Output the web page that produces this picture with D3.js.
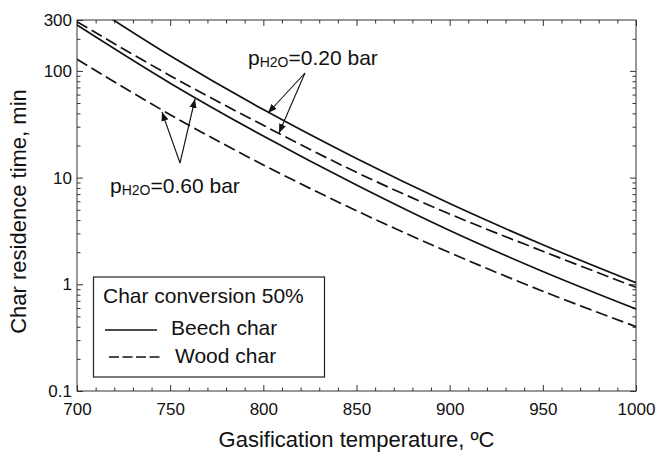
<!DOCTYPE html>
<html>
<head>
<meta charset="utf-8">
<script src="https://cdn.jsdelivr.net/npm/d3@7"></script>
<style>
  html, body { margin: 0; padding: 0; background: #fff; }
  svg { display: block; font-family: "Liberation Sans", Arial, sans-serif; }
</style>
</head>
<body>
<svg id="chart" width="657" height="452"></svg>
<script>
// Gasification temperature (ºC) at which residence times are tabulated
const temperatures = [700, 750, 800, 850, 900, 950, 1000];

// Char residence time (min) for 50% conversion
const beech020 = [499, 138.7, 43.4, 15.1, 5.71, 2.35, 1.035];
const wood020  = [289, 90.2, 30.9, 11.2, 4.56, 2.04, 0.937];
const beech060 = [269, 76.7, 24.5, 8.51, 3.19, 1.32, 0.587];
const wood060  = [128.5, 38.9, 13.15, 4.89, 1.98, 0.861, 0.401];

// Axis ticks
const xTicks = [700, 750, 800, 850, 900, 950, 1000];
const xMinorTicks = d3.range(700, 1001, 10).filter(v => v % 50 !== 0);
const yTicks = [0.1, 1, 10, 100, 300];
const yMajorTicks = [0.1, 1, 10, 100];
const yMinorTicks = [];
[0.1, 1, 10, 100].forEach(dec => {
  for (let k = 2; k <= 9; k++) if (dec * k < 300) yMinorTicks.push(+(dec * k).toPrecision(3));
});

const legendTitle = "Char conversion 50%";
const legendItems = ["Beech char", "Wood char"];

const svg = d3.select("#chart");
const ink = "#111";
const plotLeft = 77, plotRight = 636, plotTop = 20, plotBottom = 391;

const x = d3.scaleLinear().domain([700, 1000]).range([plotLeft, plotRight]);
const y = d3.scaleLog().domain([0.1, 300]).range([plotBottom, plotTop]);

const defs = svg.append("defs");
defs.append("clipPath").attr("id", "plotClip")
  .append("rect").attr("x", plotLeft).attr("y", plotTop)
  .attr("width", plotRight - plotLeft).attr("height", plotBottom - plotTop);

// Axes: ticks point inward on all four sides
function styleAxis(g) {
  g.select(".domain").remove();
  g.selectAll(".tick line").attr("stroke", "#333").attr("stroke-width", 1);
  g.selectAll(".tick text").attr("fill", ink)
    .style("font-size", "17px").style("font-family", "Liberation Sans, Arial, sans-serif");
}

svg.append("g").attr("transform", `translate(0,${plotBottom})`)
  .call(d3.axisBottom(x).tickValues(xTicks).tickFormat(d3.format("d"))
    .tickSizeInner(-6).tickSizeOuter(0).tickPadding(12))
  .call(styleAxis);
svg.append("g").attr("transform", `translate(0,${plotBottom})`)
  .call(d3.axisBottom(x).tickValues(xMinorTicks).tickFormat("")
    .tickSizeInner(-3.5).tickSizeOuter(0))
  .call(styleAxis);
svg.append("g").attr("transform", `translate(0,${plotTop})`)
  .call(d3.axisTop(x).tickValues(xTicks).tickFormat("")
    .tickSizeInner(-6).tickSizeOuter(0))
  .call(styleAxis);
svg.append("g").attr("transform", `translate(0,${plotTop})`)
  .call(d3.axisTop(x).tickValues(xMinorTicks).tickFormat("")
    .tickSizeInner(-3.5).tickSizeOuter(0))
  .call(styleAxis);

svg.append("g").attr("transform", `translate(${plotLeft},0)`)
  .call(d3.axisLeft(y).tickValues(yTicks).tickFormat(d => String(d))
    .tickSizeInner(-6).tickSizeOuter(0).tickPadding(5))
  .call(styleAxis);
svg.append("g").attr("transform", `translate(${plotLeft},0)`)
  .call(d3.axisLeft(y).tickValues(yMinorTicks).tickFormat("")
    .tickSizeInner(-3.5).tickSizeOuter(0))
  .call(styleAxis);
svg.append("g").attr("transform", `translate(${plotRight},0)`)
  .call(d3.axisRight(y).tickValues(yMajorTicks).tickFormat("")
    .tickSizeInner(-6).tickSizeOuter(0))
  .call(styleAxis);
svg.append("g").attr("transform", `translate(${plotRight},0)`)
  .call(d3.axisRight(y).tickValues(yMinorTicks).tickFormat("")
    .tickSizeInner(-3.5).tickSizeOuter(0))
  .call(styleAxis);

// Frame
svg.append("rect").attr("x", plotLeft).attr("y", plotTop)
  .attr("width", plotRight - plotLeft).attr("height", plotBottom - plotTop)
  .attr("fill", "none").attr("stroke", "#333").attr("stroke-width", 1);

// Axis titles
svg.append("text").attr("x", (plotLeft + plotRight) / 2).attr("y", 447)
  .attr("text-anchor", "middle").attr("fill", ink).style("font-size", "22px")
  .text("Gasification temperature, ºC");
svg.append("text").attr("transform", `translate(26,${(plotTop + plotBottom) / 2 + 6}) rotate(-90)`)
  .attr("text-anchor", "middle").attr("fill", ink).style("font-size", "22px")
  .text("Char residence time, min");

// Curves
const line = d3.line()
  .x(d => x(d[0])).y(d => y(d[1]))
  .curve(d3.curveCatmullRom);

const series = [
  { values: beech020, dash: null },
  { values: wood020, dash: "12,5" },
  { values: beech060, dash: null },
  { values: wood060, dash: "12,5" }
];
const gLines = svg.append("g").attr("clip-path", "url(#plotClip)");
series.forEach(s => {
  gLines.append("path")
    .datum(temperatures.map((t, i) => [t, s.values[i]]))
    .attr("d", line)
    .attr("fill", "none").attr("stroke", ink).attr("stroke-width", 1.7)
    .attr("stroke-dasharray", s.dash);
});

// Annotation arrows
defs.append("marker").attr("id", "arrowHead")
  .attr("viewBox", "0 0 10 10").attr("refX", 10).attr("refY", 5)
  .attr("markerWidth", 9).attr("markerHeight", 9).attr("markerUnits", "userSpaceOnUse")
  .attr("orient", "auto")
  .append("path").attr("d", "M0,1 L10,5 L0,9 Z").attr("fill", ink);

function arrow(x0, y0, x1, y1) {
  svg.append("line").attr("x1", x0).attr("y1", y0).attr("x2", x1).attr("y2", y1)
    .attr("stroke", ink).attr("stroke-width", 1.1).attr("marker-end", "url(#arrowHead)");
}
arrow(305, 73, 268, 113);
arrow(305, 73, 279, 133);
arrow(180, 163, 162, 112);
arrow(180, 163, 195, 99);

function pressureLabel(px, py, value) {
  const t = svg.append("text").attr("x", px).attr("y", py).attr("fill", ink)
    .style("font-size", "21px");
  t.append("tspan").text("p");
  t.append("tspan").style("font-size", "14px").attr("dy", 2).text("H2O");
  t.append("tspan").attr("dy", -2).text(`=${value} bar`);
}
pressureLabel(248, 65, "0.20");
pressureLabel(110, 193, "0.60");

// Legend
const lg = svg.append("g");
lg.append("rect").attr("x", 93.5).attr("y", 277).attr("width", 231).attr("height", 100)
  .attr("fill", "#fff").attr("stroke", "#222").attr("stroke-width", 1.2);
lg.append("text").attr("x", 103).attr("y", 303).attr("fill", ink)
  .style("font-size", "21px").text(legendTitle);
lg.append("line").attr("x1", 105).attr("x2", 157).attr("y1", 330).attr("y2", 330)
  .attr("stroke", ink).attr("stroke-width", 1.6);
lg.append("text").attr("x", 171).attr("y", 335).attr("fill", ink)
  .style("font-size", "21px").text(legendItems[0]);
lg.append("line").attr("x1", 109).attr("x2", 160).attr("y1", 357).attr("y2", 357)
  .attr("stroke", ink).attr("stroke-width", 1.6).attr("stroke-dasharray", "10,3.5");
lg.append("text").attr("x", 175).attr("y", 363).attr("fill", ink)
  .style("font-size", "21px").text(legendItems[1]);
</script>
</body>
</html>
